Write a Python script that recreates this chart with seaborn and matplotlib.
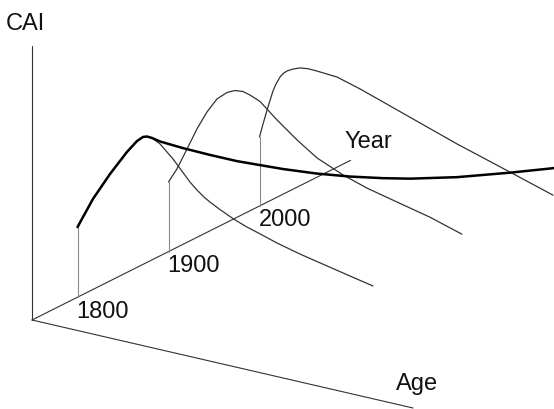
import numpy as np
import pandas as pd
import matplotlib
matplotlib.use("Agg")
import matplotlib.pyplot as plt
import seaborn as sns

# Schematic data (model units): age 0-100 along the age axis, CAI 0-100 up the CAI axis
years = [1800, 1900, 2000]

age_1800 = [0, 4.07, 8.53, 12.99, 15.62, 17.19, 18.24, 19.55, 21.65, 25.07, 27.69, 29.53, 31.36, 33.2,
            34.78, 37.4, 40.81, 44.23, 47.9, 52.36, 58.4, 64.96, 71.52, 77.56]
cai_1800 = [25.6, 37.2, 47.7, 57.2, 62.0, 64.0, 64.5, 64.4, 62.9, 58.5, 54.4, 51.5, 49.2, 47.2,
            45.9, 44.0, 41.8, 40.0, 38.5, 36.6, 34.5, 32.6, 30.7, 29.0]

age_1900 = [0, 2.23, 4.86, 7.48, 10.1, 12.73, 15.35, 17.45, 19.55, 21.39, 24.02, 28.48, 33.73, 38.98,
            45.8, 52.1, 58.92, 68.6, 77.0]
cai_1900 = [25.4, 30.9, 39.0, 47.2, 54.2, 59.8, 63.0, 64.4, 64.7, 64.0, 62.5, 57.2, 51.6, 46.7,
            42.7, 39.9, 37.7, 34.6, 31.1]

age_2000 = [0, 0.92, 2.23, 3.54, 4.33, 5.38, 6.17, 7.22, 8.79, 10.63, 12.73, 15.09, 20.34, 26.38,
            32.41, 40.29, 51.84, 65.75, 77.03]
cai_2000 = [25.2, 30.2, 36.9, 43.1, 45.9, 48.8, 50.3, 51.6, 52.8, 53.8, 54.2, 54.1, 53.6, 51.2,
            48.4, 44.7, 39.3, 33.5, 28.7]

# thick line: stand established in 1800, CAI kept up as it ages
age_thick = [0, 4.07, 8.53, 12.99, 15.62, 17.19, 18.24, 19.55, 21.65, 27.69, 34.78, 41.86, 47.9,
             53.9, 62.86, 71.5, 80.2, 87.3, 99.6, 113.5, 125.1]
cai_thick = [25.6, 37.2, 47.7, 57.2, 62.0, 64.0, 64.5, 64.4, 63.8, 63.3, 63.1, 63.1, 63.6,
             64.1, 65.3, 67.0, 69.2, 71.3, 75.8, 81.9, 87.3]

year_range = (1750, 2100)
age_max = 100
cai_max = 100

# oblique projection onto the picture (pixel frame)
origin = np.array([32.0, 321.0])
year_vec = np.array([91.0, -45.6]) / 100   # per year
age_vec = np.array([3.81, 0.88])           # per age unit
cai_vec = np.array([0.0, -2.74])           # per CAI unit


def project(year, age, cai):
    year = np.asarray(year, dtype=float)
    age = np.asarray(age, dtype=float)
    cai = np.asarray(cai, dtype=float)
    p = (origin[:, None] + year_vec[:, None] * (year - year_range[0])
         + age_vec[:, None] * age + cai_vec[:, None] * cai)
    return p[0], p[1]


sns.set_theme(style="white")
plt.rcParams["font.family"] = ["Liberation Sans", "DejaVu Sans"]

fig = plt.figure(figsize=(5.54, 4.10), dpi=100)
ax = fig.add_axes([0, 0, 1, 1])
ax.set_xlim(0, 554)
ax.set_ylim(410, 0)
ax.axis("off")

axis_color = "#333333"
# CAI axis
x, y = project([year_range[0]] * 2, [0, 0], [0, cai_max])
sns.lineplot(x=x, y=y, sort=False, estimator=None, color=axis_color, lw=0.8, ax=ax)
# year axis
x, y = project(list(year_range), [0, 0], [0, 0])
sns.lineplot(x=x, y=y, sort=False, estimator=None, color=axis_color, lw=0.8, ax=ax)
# age axis
x, y = project([year_range[0]] * 2, [0, age_max], [0, 0])
sns.lineplot(x=x, y=y, sort=False, estimator=None, color=axis_color, lw=0.8, ax=ax)

curves = {1800: (age_1800, cai_1800), 1900: (age_1900, cai_1900), 2000: (age_2000, cai_2000)}
for yr in years:
    ages, cais = curves[yr]
    # drop line from the year axis to the curve start
    x, y = project([yr, yr], [0, 0], [0, cais[0]])
    sns.lineplot(x=x, y=y, sort=False, estimator=None, color="#8a8a8a", lw=0.8, ax=ax)
    x, y = project([yr] * len(ages), ages, cais)
    sns.lineplot(x=x, y=y, sort=False, estimator=None, color="#333333", lw=0.9, ax=ax)
    bx, by = project([yr], [0], [0])
    ax.text(bx[0] - 1, by[0] + 19.5, str(yr), fontsize=17, color="#111111", va="baseline", ha="left")

x, y = project([1800] * len(age_thick), age_thick, cai_thick)
sns.lineplot(x=x, y=y, sort=False, estimator=None, color="black", lw=1.8, ax=ax)

ax.text(6, 30, "CAI", fontsize=17, color="#111111", va="baseline", ha="left")
ex, ey = project([year_range[1]], [0], [0])
ax.text(ex[0] - 6, ey[0] - 13.5, "Year", fontsize=17, color="#111111", va="baseline", ha="left")
ax.text(396, 390, "Age", fontsize=17, color="#111111", va="baseline", ha="left")

fig.savefig("out.png", dpi=100)
